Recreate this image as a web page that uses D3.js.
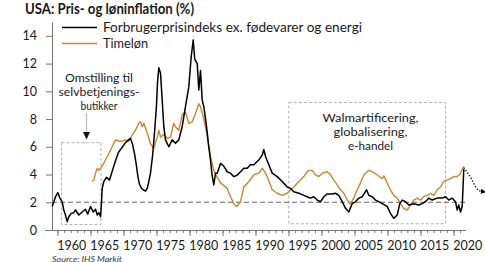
<!DOCTYPE html>
<html>
<head>
<meta charset="utf-8">
<script src="https://cdn.jsdelivr.net/npm/d3@7/dist/d3.min.js"></script>
<style>
  html, body { margin: 0; padding: 0; background: #fff; }
  svg { display: block; font-family: Lato, "Open Sans", sans-serif; }
</style>
</head>
<body>
<div id="chart"></div>
<script>
// Core CPI (ex. food & energy), y/y %
const cpiYears = [1959.2, 1959.7, 1960.05, 1960.35, 1960.71, 1960.95, 1961.21, 1961.47, 1961.71, 1962.08,
  1962.47, 1962.73, 1963.23, 1963.74, 1964.24, 1964.59, 1965.0, 1965.41, 1965.76, 1966.02,
  1966.26, 1966.52, 1966.67, 1966.77, 1967.02, 1967.42, 1967.88, 1968.33, 1968.79, 1969.24,
  1969.7, 1970.3, 1970.76, 1971.06, 1971.36, 1971.67, 1971.97, 1972.2, 1972.42, 1972.73,
  1973.03, 1973.33, 1973.59, 1973.79, 1974.09, 1974.39, 1974.7, 1975.0, 1975.15, 1975.35,
  1975.61, 1975.86, 1976.11, 1976.36, 1976.86, 1977.38, 1977.88, 1978.38, 1978.89, 1979.39,
  1979.89, 1980.26, 1980.56, 1980.8, 1981.17, 1981.41, 1981.67, 1981.92, 1982.17, 1982.58,
  1982.92, 1983.18, 1983.41, 1983.68, 1983.94, 1984.2, 1984.7, 1985.2, 1985.71, 1986.21,
  1986.71, 1987.23, 1987.73, 1988.23, 1988.74, 1989.24, 1989.74, 1990.5, 1991.02, 1991.26,
  1991.52, 1992.02, 1992.53, 1993.29, 1994.05, 1994.8, 1995.3, 1995.8, 1996.56, 1997.32,
  1997.83, 1998.33, 1998.83, 1999.35, 1999.85, 2000.35, 2000.86, 2001.62, 2002.12, 2002.62,
  2003.14, 2003.64, 2004.14, 2004.65, 2005.15, 2005.65, 2006.17, 2006.82, 2007.17, 2007.68,
  2008.18, 2008.68, 2009.2, 2009.95, 2010.45, 2010.95, 2011.47, 2011.86, 2012.23, 2012.73,
  2013.23, 2013.98, 2014.74, 2015.26, 2015.76, 2016.26, 2016.77, 2017.53, 2018.29, 2018.79,
  2019.29, 2019.8, 2020.3, 2020.56, 2020.8, 2021.06, 2021.32, 2021.56];
const cpiValues = [1.7, 2.4, 2.7, 2.3, 2.05, 1.44, 1.08, 0.6, 0.96, 1.2,
  1.25, 1.44, 1.08, 1.3, 1.5, 1.15, 1.7, 1.3, 1.5, 1.08,
  1.25, 0.96, 2.04, 3.0, 3.5, 3.8, 3.6, 4.3, 5.0, 5.6,
  5.9, 6.3, 6.5, 6.6, 6.2, 5.5, 4.6, 3.8, 3.3, 3.0,
  2.9, 2.8, 3.0, 3.4, 4.1, 5.3, 7.0, 9.0, 10.6, 11.7,
  11.3, 9.4, 7.45, 6.5, 6.0, 6.5, 6.25, 6.5, 7.45, 8.9,
  10.3, 12.5, 13.7, 12.3, 12.0, 10.1, 11.5, 9.4, 8.9, 7.45,
  6.0, 5.05, 4.0, 3.25, 4.1, 4.1, 4.8, 4.6, 4.2, 4.1,
  3.85, 3.95, 4.2, 4.45, 4.45, 4.7, 4.7, 5.05, 5.4, 5.8,
  5.3, 4.7, 4.1, 3.85, 3.5, 3.1, 3.0, 2.76, 2.65, 2.5,
  2.4, 2.3, 2.4, 2.16, 2.04, 2.4, 2.6, 2.6, 2.65, 2.5,
  2.04, 1.56, 1.3, 1.9, 2.04, 2.3, 2.4, 2.9, 2.5, 2.4,
  2.16, 2.04, 1.9, 1.7, 1.2, 0.84, 1.08, 1.9, 2.16, 2.04,
  1.8, 1.9, 1.8, 1.9, 2.04, 2.3, 2.16, 2.3, 2.3, 2.4,
  2.16, 2.3, 2.04, 1.44, 1.8, 1.3, 1.7, 4.4];

// Hourly earnings, y/y %
const wageYears = [1965.26, 1965.5, 1965.76, 1966.02, 1966.26, 1966.77, 1967.27, 1967.77, 1968.29, 1968.79,
  1969.29, 1969.8, 1970.3, 1970.8, 1971.32, 1971.82, 1972.32, 1972.58, 1972.83, 1973.08,
  1973.59, 1974.09, 1974.59, 1975.11, 1975.35, 1975.61, 1976.11, 1976.62, 1977.12, 1977.62,
  1977.88, 1978.38, 1978.89, 1979.39, 1979.89, 1980.41, 1980.91, 1981.41, 1981.67, 1982.17,
  1982.68, 1983.18, 1983.68, 1984.2, 1984.7, 1985.71, 1986.21, 1986.71, 1987.12, 1987.73,
  1988.23, 1988.98, 1989.74, 1990.5, 1991.02, 1991.26, 1991.77, 1992.53, 1993.29, 1994.05,
  1994.8, 1995.3, 1995.8, 1996.56, 1997.32, 1997.83, 1998.08, 1998.59, 1999.09, 1999.59,
  2000.11, 2000.86, 2001.36, 2001.86, 2002.38, 2002.88, 2003.38, 2003.89, 2004.39, 2004.89,
  2005.41, 2005.91, 2006.41, 2006.92, 2007.17, 2007.68, 2008.44, 2009.2, 2009.44, 2009.95,
  2010.45, 2010.95, 2011.47, 2011.97, 2012.47, 2012.98, 2013.48, 2013.98, 2014.5, 2015.0,
  2015.5, 2016.02, 2016.52, 2017.02, 2017.53, 2018.03, 2018.53, 2019.05, 2019.55, 2020.05,
  2020.56, 2021.06, 2021.56];
const wageValues = [3.5, 3.6, 4.1, 4.45, 4.3, 4.6, 5.05, 5.5, 6.0, 6.5,
  6.4, 6.4, 6.5, 6.4, 6.85, 7.2, 7.7, 7.8, 7.45, 7.7,
  7.0, 6.2, 5.9, 6.7, 7.2, 6.7, 6.9, 6.6, 6.7, 7.7,
  7.45, 7.2, 8.3, 8.5, 7.7, 7.8, 8.4, 9.1, 8.9, 8.0,
  6.8, 5.3, 4.3, 3.8, 3.4, 3.0, 2.4, 1.9, 1.7, 2.04,
  3.1, 3.5, 3.97, 4.1, 4.45, 4.3, 3.85, 2.9, 2.65, 2.5,
  2.65, 2.9, 3.1, 3.5, 3.85, 4.2, 4.3, 4.3, 3.97, 3.85,
  4.1, 4.2, 4.0, 3.6, 3.25, 2.9, 2.65, 2.16, 1.9, 2.3,
  2.9, 3.4, 3.97, 4.2, 4.3, 4.2, 3.97, 3.7, 3.9, 3.4,
  2.9, 2.5, 2.3, 1.9, 1.56, 1.44, 1.8, 2.16, 2.3, 2.16,
  2.4, 2.5, 2.65, 2.5, 2.9, 3.1, 3.5, 3.6, 3.7, 3.85,
  3.85, 4.1, 4.6];

// dotted outlook
const forecastYears = [2021.56, 2021.85, 2022.3, 2022.83, 2023.25, 2023.6, 2024.0, 2024.3];
const forecastValues = [4.5, 4.3, 4.0, 3.6, 3.2, 2.95, 2.82, 2.78];

const yTicks = [0, 2, 4, 6, 8, 10, 12, 14];
const xLabelYears = [1960, 1965, 1970, 1975, 1980, 1985, 1990, 1995, 2000, 2005, 2010, 2015, 2020];
const seriesNames = ['Forbrugerprisindeks ex. fødevarer og energi', 'Timeløn'];
const orange = '#cc8633';

const W = 485, H = 262;
const svg = d3.select('#chart').append('svg').attr('width', W).attr('height', H);

const x = d3.scaleLinear().domain([1960, 2020]).range([57.5, 453.5]);
const y = d3.scaleLinear().domain([0, 15]).range([230, 22]);

// text helper, fitted to the widths seen in the picture
function label(g, tx, ty, str, opts) {
  const t = g.append('text')
    .attr('x', tx).attr('y', ty)
    .attr('font-size', opts.size)
    .attr('fill', opts.color || '#1a1a1a')
    .attr('text-anchor', opts.anchor || 'start')
    .text(str);
  if (opts.bold) t.attr('font-weight', 'bold');
  if (opts.italic) t.attr('font-style', 'italic');
  if (opts.width) t.attr('textLength', opts.width).attr('lengthAdjust', 'spacingAndGlyphs');
  return t;
}

// title
label(svg, 25, 13.5, 'USA: Pris- og løninflation (%)', { size: 14.5, bold: true, width: 169 });

// annotation boxes
const boxes = [
  { x0: 1960.6, x1: 1966.6, v0: 0.4, v1: 6.3 },
  { x0: 1995.05, x1: 2018.8, v0: 0.45, v1: 9.2 },
];
svg.selectAll('rect.box')
  .data(boxes)
  .enter()
  .append('rect')
  .attr('class', 'box')
  .attr('x', d => x(d.x0))
  .attr('y', d => y(d.v1))
  .attr('width', d => x(d.x1) - x(d.x0))
  .attr('height', d => y(d.v0) - y(d.v1))
  .attr('fill', 'none')
  .attr('stroke', '#b0b0b0')
  .attr('stroke-width', 1)
  .attr('stroke-dasharray', '3,2');

// 2% reference
svg.append('line')
  .attr('x1', x.range()[0] - 5.5).attr('x2', x(2021.9))
  .attr('y1', y(2)).attr('y2', y(2))
  .attr('stroke', '#666')
  .attr('stroke-width', 1)
  .attr('stroke-dasharray', '5,3');

// axes
const yAxis = svg.append('g')
  .attr('transform', 'translate(52,0)')
  .call(d3.axisLeft(y).tickValues(yTicks).tickSize(6).tickPadding(9).tickSizeOuter(0));
yAxis.select('.domain').attr('stroke', '#777');
yAxis.selectAll('.tick line').attr('stroke', '#777');
yAxis.selectAll('.tick text').attr('font-size', 12.5).attr('fill', '#1a1a1a').attr('font-family', 'Lato, sans-serif');

const xMinor = svg.append('g')
  .attr('transform', 'translate(0,230)')
  .call(d3.axisBottom(x).tickValues(d3.range(1960, 2022)).tickSize(3).tickFormat('').tickSizeOuter(0));
xMinor.select('.domain').attr('d', `M45,0.5H${x(2021.9)}`).attr('stroke', '#777');
xMinor.selectAll('.tick line').attr('stroke', '#777');

const xMajor = svg.append('g')
  .attr('transform', 'translate(0,230)')
  .call(d3.axisBottom(x).tickValues(xLabelYears).tickSize(6).tickFormat('').tickSizeOuter(0));
xMajor.select('.domain').remove();
xMajor.selectAll('.tick line').attr('stroke', '#777');

const labelShift = 2.1;
const xLabels = svg.append('g')
  .attr('transform', 'translate(0,230)')
  .call(d3.axisBottom(x).tickValues(xLabelYears.map(d => d + labelShift)).tickFormat(d => Math.round(d - labelShift)).tickSize(0).tickPadding(10));
xLabels.select('.domain').remove();
xLabels.selectAll('.tick text')
  .attr('font-size', 14).attr('fill', '#1a1a1a').attr('font-family', 'Lato, sans-serif')
  .attr('textLength', 29).attr('lengthAdjust', 'spacingAndGlyphs');

// series
const line = d3.line().x(d => x(d[0])).y(d => y(d[1]));

svg.append('path')
  .datum(d3.zip(wageYears, wageValues))
  .attr('d', line)
  .attr('fill', 'none')
  .attr('stroke', orange)
  .attr('stroke-width', 1.4)
  .attr('stroke-linejoin', 'round');

svg.append('path')
  .datum(d3.zip(cpiYears, cpiValues))
  .attr('d', line)
  .attr('fill', 'none')
  .attr('stroke', '#000')
  .attr('stroke-width', 1.5)
  .attr('stroke-linejoin', 'round');

// outlook, dotted with arrow tip
svg.append('defs').append('marker')
  .attr('id', 'tip')
  .attr('viewBox', '0 0 10 10')
  .attr('refX', 2).attr('refY', 5)
  .attr('markerWidth', 5).attr('markerHeight', 5)
  .attr('markerUnits', 'userSpaceOnUse')
  .attr('orient', 'auto')
  .append('path')
  .attr('d', 'M0,0L10,5L0,10Z')
  .attr('fill', '#000');

svg.append('path')
  .datum(d3.zip(forecastYears, forecastValues))
  .attr('d', d3.line().x(d => x(d[0])).y(d => y(d[1])).curve(d3.curveMonotoneX))
  .attr('fill', 'none')
  .attr('stroke', '#000')
  .attr('stroke-width', 1.3)
  .attr('stroke-dasharray', '1.3,1.8')
  .attr('marker-end', 'url(#tip)');

// legend
const legend = svg.append('g');
seriesNames.forEach((name, i) => {
  const ly = 27.5 + i * 16;
  legend.append('line')
    .attr('x1', 62).attr('x2', 97)
    .attr('y1', ly).attr('y2', ly)
    .attr('stroke', i === 0 ? '#000' : orange)
    .attr('stroke-width', 1.6);
  label(legend, 103, ly + 4.5, name, { size: 13, width: i === 0 ? 259 : 45 });
});

// annotations
const note1 = ['Omstilling til', 'selvbetjenings-', 'butikker'];
const note1W = [68, 81, 37];
note1.forEach((s, i) => label(svg, 99, 81.5 + i * 14, s, { size: 11.5, anchor: 'middle', width: note1W[i] }));

svg.append('line')
  .attr('x1', 86.5).attr('x2', 86.5)
  .attr('y1', 113).attr('y2', 133)
  .attr('stroke', '#bbb')
  .attr('stroke-width', 1.2);
svg.append('path')
  .attr('d', 'M83,132L90,132L86.5,139.5Z')
  .attr('fill', '#111');

const note2 = ['Walmartificering,', 'globalisering,', 'e-handel'];
const note2W = [96, 74, 45];
note2.forEach((s, i) => label(svg, 370.5, 122 + i * 14, s, { size: 11.5, anchor: 'middle', width: note2W[i] }));

// source
label(svg, 52, 261.5, 'Source: IHS Markit', { size: 8, italic: true, color: '#333', width: 70 });
</script>
</body>
</html>
